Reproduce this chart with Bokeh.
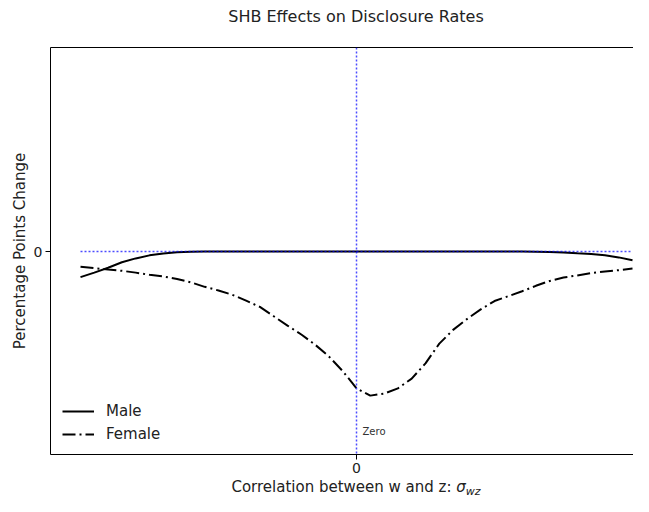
from bokeh.plotting import figure
from bokeh.layouts import column
from bokeh.models import (Range1d, LinearAxis, Span, Label, Legend, LegendItem,
                          FixedTicker, ColumnDataSource, Div)
from bokeh.embed import file_html
from bokeh.resources import INLINE

# ---- data ----
corr = [-1.00, -0.95, -0.90, -0.85, -0.80, -0.75, -0.70, -0.65, -0.60, -0.55,
        -0.50, -0.45, -0.40, -0.35, -0.30, -0.25, -0.20, -0.15, -0.10, -0.05,
        0.00, 0.05, 0.10, 0.15, 0.20, 0.25, 0.30, 0.35, 0.40, 0.45,
        0.50, 0.55, 0.60, 0.65, 0.70, 0.75, 0.80, 0.85, 0.90, 0.95, 1.00]
male = [-0.126, -0.104, -0.080, -0.053, -0.034, -0.019, -0.010, -0.004, -0.001, 0.0,
        0.0, 0.0, 0.0, 0.0, 0.0, 0.0, 0.0, 0.0, 0.0, 0.0,
        0.0, 0.0, 0.0, 0.0, 0.0, 0.0, 0.0, 0.0, 0.0, 0.0,
        0.0, 0.0, -0.0005, -0.0015, -0.0025, -0.005, -0.009, -0.012, -0.019, -0.029, -0.043]
female = [-0.075, -0.082, -0.089, -0.095, -0.104, -0.115, -0.123, -0.135, -0.152, -0.174,
          -0.192, -0.213, -0.242, -0.273, -0.319, -0.365, -0.409, -0.459, -0.517, -0.589,
          -0.674, -0.710, -0.700, -0.674, -0.626, -0.551, -0.454, -0.386, -0.333, -0.285,
          -0.244, -0.220, -0.196, -0.169, -0.145, -0.128, -0.118, -0.106, -0.099, -0.092, -0.084]
zero_x = [-1.0, 1.0]
zero_y = [0.0, 0.0]
x_ticks = [0]
y_ticks = [0]

title_text = "SHB Effects on Disclosure Rates"
y_label = "Percentage Points Change"
x_label_main = "Correlation between w and z: "
x_label_sym = "σ"
x_label_sub = "wz"
zero_text = "Zero"

FONT = "DejaVu Sans"
TXT = "#222222"

p = figure(width=633, height=444, output_backend="svg", toolbar_location=None,
           x_range=Range1d(-1.1087, 1.0036), y_range=Range1d(-1.0, 1.005),
           min_border_left=50, min_border_right=0, min_border_top=13, min_border_bottom=24,
           background_fill_color="white", border_fill_color="white", margin=0)
p.title.visible = False
p.outline_line_color = None
p.grid.visible = False

for ax in (p.xaxis[0], p.yaxis[0]):
    ax.major_tick_in = 0
    ax.major_tick_out = 5
    ax.minor_tick_out = 0
    ax.minor_tick_in = 0
    ax.axis_line_color = "black"
    ax.axis_line_width = 1
    ax.major_tick_line_color = "black"
    ax.major_label_text_font = FONT
    ax.major_label_text_font_size = "14px"
    ax.major_label_text_color = TXT
    ax.major_label_standoff = 3

p.xaxis.ticker = FixedTicker(ticks=x_ticks)
p.yaxis.ticker = FixedTicker(ticks=y_ticks)
p.yaxis.axis_label = y_label
p.yaxis.axis_label_text_font = FONT
p.yaxis.axis_label_text_font_size = "15px"
p.yaxis.axis_label_text_font_style = "normal"
p.yaxis.axis_label_text_color = TXT
p.yaxis.axis_label_standoff = 2

top_axis = LinearAxis(ticker=FixedTicker(ticks=[]), axis_line_color="black",
                      major_tick_out=0, major_tick_in=0, minor_tick_out=0, minor_tick_in=0)
p.add_layout(top_axis, "above")

src = ColumnDataSource(dict(corr=corr, male=male, female=female))
r_m = p.line(x="corr", y="male", source=src, line_color="black", line_width=2)
r_f = p.line(x="corr", y="female", source=src, line_color="black", line_width=2,
             line_dash="13 4 2 4")

p.line(zero_x, zero_y, line_color="blue", line_alpha=0.7, line_width=1.5, line_dash="2 2")
p.add_layout(Span(location=0, dimension="height", line_color="blue", line_alpha=0.7,
                  line_width=1.5, line_dash="2 2"))

p.add_layout(Label(x=0.0217, y=-0.887, text=zero_text, text_font=FONT, text_font_size="10px",
                   text_color="#333333", text_baseline="middle", text_align="left"))

legend = Legend(items=[LegendItem(label="Male", renderers=[r_m]),
                       LegendItem(label="Female", renderers=[r_f])],
                location=(12, 10), border_line_color=None, background_fill_alpha=0,
                padding=0, margin=0, spacing=3, glyph_width=32, glyph_height=20,
                label_height=20, label_standoff=12, label_text_font=FONT,
                label_text_font_size="15px", label_text_color=TXT)
p.add_layout(legend)

BOX = ("display:block;width:633px;box-sizing:border-box;text-align:center;"
       "padding-left:79px;white-space:nowrap;")

title_div = Div(
    text=(f'<div style="{BOX}font-family:\'{FONT}\';font-size:16px;color:{TXT};'
          f'line-height:34px;height:34px;">{title_text}</div>'),
    width=633, height=34, margin=0)

xlabel_div = Div(
    text=(f'<div style="{BOX}font-family:\'{FONT}\';font-size:15px;color:{TXT};'
          f'line-height:18px;height:18px;">{x_label_main}<i>{x_label_sym}</i>'
          f'<span style="font-size:11px;font-style:italic;position:relative;top:3px;">'
          f'{x_label_sub}</span></div>'),
    width=633, height=18, margin=0)

layout = column(title_div, p, xlabel_div, spacing=0)

open("out.html", "w").write(file_html(layout, INLINE))
